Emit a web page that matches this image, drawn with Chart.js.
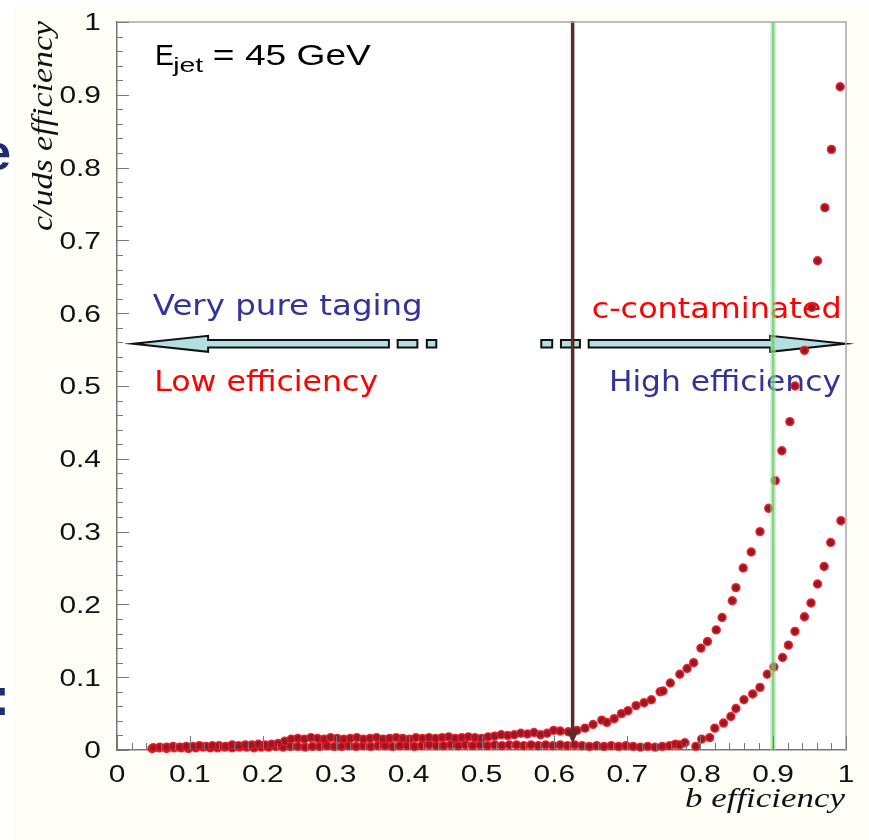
<!DOCTYPE html>
<html>
<head>
<meta charset="utf-8">
<title>c/uds efficiency vs b efficiency</title>
<script src="https://cdn.jsdelivr.net/npm/chart.js@4.4.1/dist/chart.umd.min.js"></script>
<style>
  body { margin: 0; background: #fff; }
  canvas { display: block; }
</style>
</head>
<body>
<canvas id="myChart" width="869" height="840"></canvas>
<script>
// eficiencia b / eficiencia c (curva superior)
const bEffC = [
  0.050, 0.059, 0.068, 0.077, 0.086, 0.095, 0.104, 0.113, 0.122, 0.131,
  0.140, 0.149, 0.158, 0.167, 0.176, 0.185, 0.194, 0.203, 0.212, 0.221,
  0.230, 0.239, 0.248, 0.257, 0.266, 0.275, 0.284, 0.293, 0.302, 0.311,
  0.320, 0.329, 0.338, 0.347, 0.356, 0.365, 0.374, 0.383, 0.392, 0.401,
  0.410, 0.419, 0.428, 0.437, 0.446, 0.455, 0.464, 0.473, 0.482, 0.491,
  0.500, 0.509, 0.518, 0.527, 0.536, 0.545, 0.554, 0.563, 0.572, 0.581,
  0.590, 0.599, 0.608, 0.619, 0.631, 0.642, 0.653, 0.665, 0.672, 0.682,
  0.692, 0.701, 0.712, 0.723, 0.733, 0.745, 0.749, 0.759, 0.772, 0.782,
  0.791, 0.801, 0.810, 0.822, 0.830, 0.844, 0.849, 0.859, 0.870, 0.882,
  0.894, 0.903, 0.912, 0.923, 0.930, 0.943, 0.953, 0.961, 0.971, 0.980,
  0.992
];
const cEff = [
  0.003, 0.004, 0.004, 0.005, 0.004, 0.005, 0.005, 0.006, 0.005, 0.006,
  0.006, 0.005, 0.007, 0.006, 0.007, 0.007, 0.008, 0.007, 0.008, 0.009,
  0.012, 0.015, 0.016, 0.015, 0.017, 0.016, 0.015, 0.017, 0.016, 0.015,
  0.016, 0.017, 0.015, 0.016, 0.017, 0.015, 0.016, 0.017, 0.016, 0.015,
  0.017, 0.016, 0.017, 0.016, 0.017, 0.018, 0.016, 0.017, 0.018, 0.017,
  0.016, 0.018, 0.019, 0.021, 0.020, 0.021, 0.023, 0.022, 0.024, 0.021,
  0.023, 0.027, 0.026, 0.025, 0.027, 0.030, 0.035, 0.041, 0.038, 0.043,
  0.050, 0.054, 0.061, 0.065, 0.069, 0.080, 0.081, 0.092, 0.104, 0.112,
  0.120, 0.140, 0.149, 0.165, 0.182, 0.205, 0.223, 0.250, 0.272, 0.300,
  0.332, 0.370, 0.411, 0.451, 0.500, 0.549, 0.608, 0.672, 0.745, 0.825,
  0.911
];

// eficiencia b / eficiencia uds (curva inferior)
const bEffUds = [
  0.048, 0.058, 0.068, 0.078, 0.088, 0.098, 0.108, 0.118, 0.128, 0.138,
  0.148, 0.158, 0.168, 0.178, 0.188, 0.198, 0.208, 0.218, 0.228, 0.238,
  0.248, 0.258, 0.268, 0.278, 0.288, 0.298, 0.308, 0.318, 0.328, 0.338,
  0.348, 0.358, 0.368, 0.378, 0.388, 0.398, 0.408, 0.418, 0.428, 0.438,
  0.448, 0.458, 0.468, 0.478, 0.488, 0.498, 0.508, 0.518, 0.528, 0.538,
  0.548, 0.558, 0.568, 0.578, 0.588, 0.598, 0.608, 0.618, 0.628, 0.638,
  0.648, 0.658, 0.668, 0.678, 0.688, 0.698, 0.708, 0.718, 0.728, 0.738,
  0.748, 0.758, 0.766, 0.772, 0.779, 0.794, 0.802, 0.813, 0.820, 0.832,
  0.842, 0.849, 0.860, 0.872, 0.882, 0.892, 0.901, 0.913, 0.921, 0.930,
  0.943, 0.952, 0.961, 0.970, 0.979, 0.993
];
const udsEff = [
  0.002, 0.003, 0.002, 0.003, 0.003, 0.002, 0.003, 0.004, 0.003, 0.003,
  0.004, 0.003, 0.004, 0.004, 0.003, 0.004, 0.004, 0.005, 0.004, 0.005,
  0.005, 0.004, 0.005, 0.005, 0.006, 0.005, 0.005, 0.006, 0.005, 0.006,
  0.005, 0.006, 0.006, 0.005, 0.006, 0.006, 0.005, 0.006, 0.007, 0.006,
  0.006, 0.007, 0.006, 0.007, 0.006, 0.007, 0.006, 0.007, 0.006, 0.007,
  0.007, 0.006, 0.007, 0.006, 0.007, 0.006, 0.007, 0.006, 0.007, 0.006,
  0.005, 0.006, 0.005, 0.006, 0.005, 0.006, 0.005, 0.004, 0.005, 0.004,
  0.005, 0.006, 0.008, 0.007, 0.010, 0.005, 0.015, 0.017, 0.030, 0.037,
  0.046, 0.057, 0.069, 0.077, 0.086, 0.104, 0.114, 0.127, 0.144, 0.163,
  0.183, 0.202, 0.228, 0.252, 0.285, 0.315
];

const xTickValues = [0, 0.1, 0.2, 0.3, 0.4, 0.5, 0.6, 0.7, 0.8, 0.9, 1];
const xTickLabels = ['0', '0.1', '0.2', '0.3', '0.4', '0.5', '0.6', '0.7', '0.8', '0.9', '1'];
const yTickValues = [0, 0.1, 0.2, 0.3, 0.4, 0.5, 0.6, 0.7, 0.8, 0.9, 1];
const yTickLabels = ['0', '0.1', '0.2', '0.3', '0.4', '0.5', '0.6', '0.7', '0.8', '0.9', '1'];

// cortes marcados con lineas verticales
const corteOperacion = 0.625;
const corteAlto = 0.9;

const AZUL = '#333399';
const ROJO = '#ff0000';
const SANS = '"Liberation Sans", Arial, sans-serif';
const VERDANA = '"DejaVu Sans", Verdana, sans-serif';
const SERIF = '"Liberation Serif", "Times New Roman", serif';

function texto(ctx, s, x, y, font, color, align, sx, angle) {
  ctx.save();
  ctx.translate(x, y);
  if (angle) ctx.rotate(angle);
  ctx.scale(sx, 1);
  ctx.font = font;
  ctx.fillStyle = color;
  ctx.textAlign = align;
  ctx.textBaseline = 'alphabetic';
  ctx.fillText(s, 0, 0);
  ctx.restore();
}

// igual que texto() pero estirado hasta un ancho dado
function textoAncho(ctx, s, x, y, font, color, align, ancho, angle) {
  ctx.save();
  ctx.font = font;
  const w = ctx.measureText(s).width;
  ctx.restore();
  texto(ctx, s, x, y, font, color, align, ancho / w, angle);
}

function caja(ctx, x0, x1, yc, h) {
  ctx.beginPath();
  ctx.rect(x0, yc - h, x1 - x0, 2 * h);
  ctx.fill();
  ctx.stroke();
}

function flecha(ctx, xPunta, xBase, xCola, yc) {
  ctx.beginPath();
  ctx.moveTo(xPunta, yc);
  ctx.lineTo(xBase, yc - 8);
  ctx.lineTo(xBase, yc - 3.8);
  ctx.lineTo(xCola, yc - 3.8);
  ctx.lineTo(xCola, yc + 3.8);
  ctx.lineTo(xBase, yc + 3.8);
  ctx.lineTo(xBase, yc + 8);
  ctx.closePath();
  ctx.fill();
  ctx.stroke();
}

const decoraciones = {
  id: 'decoraciones',
  beforeDraw(chart) {
    const ctx = chart.ctx;
    const a = chart.chartArea;
    ctx.save();
    ctx.fillStyle = '#ffffff';
    ctx.fillRect(0, 0, chart.width, chart.height);
    ctx.fillStyle = '#fefef6';
    ctx.fillRect(13, 6, chart.width - 13, chart.height - 6);
    ctx.fillStyle = '#ffffff';
    ctx.fillRect(a.left, a.top, a.right - a.left, a.bottom - a.top);
    // restos del texto de la diapositiva
    ctx.fillStyle = '#1f2d6e';
    ctx.font = 'bold 50px ' + SANS;
    ctx.textAlign = 'right';
    ctx.fillText('e', 11, 170);
    ctx.font = 'bold 54px ' + SANS;
    ctx.textAlign = 'left';
    ctx.fillText(':', -8, 715);
    ctx.restore();
  },
  beforeDatasetsDraw(chart) {
    const ctx = chart.ctx;
    const xs = chart.scales.x;
    const ys = chart.scales.y;
    const px = v => xs.getPixelForValue(v);
    const py = v => ys.getPixelForValue(v);

    // E_jet = 45 GeV
    textoAncho(ctx, 'E', px(0.052), py(0.941), '29px ' + SANS, '#000', 'left', 19);
    textoAncho(ctx, 'jet', px(0.077), py(0.9315), '20px ' + SANS, '#000', 'left', 30);
    textoAncho(ctx, '= 45 GeV', px(0.1315), py(0.941), '29px ' + SANS, '#000', 'left', 158);

    textoAncho(ctx, 'Very pure taging', px(0.049), py(0.5975), '29px ' + VERDANA, AZUL, 'left', 270);
    textoAncho(ctx, 'Low efficiency', px(0.051), py(0.4925), '29px ' + VERDANA, ROJO, 'left', 224);
    textoAncho(ctx, 'c-contaminated', px(0.994), py(0.594), '29px ' + VERDANA, ROJO, 'right', 250);
    textoAncho(ctx, 'High efficiency', px(0.993), py(0.4925), '29px ' + VERDANA, AZUL, 'right', 232);

    // flechas de pureza / eficiencia
    const yc = py(0.558);
    ctx.save();
    ctx.fillStyle = '#b3dfe0';
    ctx.strokeStyle = '#111';
    ctx.lineWidth = 2;
    ctx.lineJoin = 'miter';
    flecha(ctx, px(0.022), px(0.125), px(0.373), yc);
    caja(ctx, px(0.385), px(0.412), yc, 3.8);
    caja(ctx, px(0.425), px(0.438), yc, 3.8);
    flecha(ctx, px(0.999), px(0.896), px(0.647), yc);
    caja(ctx, px(0.609), px(0.635), yc, 3.8);
    caja(ctx, px(0.582), px(0.597), yc, 3.8);
    ctx.restore();
  },
  afterDatasetsDraw(chart) {
    const ctx = chart.ctx;
    const a = chart.chartArea;
    const xs = chart.scales.x;
    const ys = chart.scales.y;
    const px = v => xs.getPixelForValue(v);
    const py = v => ys.getPixelForValue(v);
    ctx.save();

    // linea verde en b eff = 0.9
    ctx.strokeStyle = 'rgba(170, 225, 170, 0.5)';
    ctx.lineWidth = 6;
    ctx.beginPath();
    ctx.moveTo(px(corteAlto), a.top);
    ctx.lineTo(px(corteAlto), a.bottom);
    ctx.stroke();
    ctx.strokeStyle = 'rgba(90, 195, 90, 0.65)';
    ctx.lineWidth = 2.5;
    ctx.stroke();

    // linea marron con punta de flecha
    const xb = px(corteOperacion);
    const yPunta = py(0.009);
    ctx.strokeStyle = '#5c2b2b';
    ctx.fillStyle = '#5c2b2b';
    ctx.lineWidth = 3.5;
    ctx.beginPath();
    ctx.moveTo(xb, a.top - 1);
    ctx.lineTo(xb, yPunta - 10);
    ctx.stroke();
    ctx.beginPath();
    ctx.moveTo(xb - 6, yPunta - 13);
    ctx.lineTo(xb + 6, yPunta - 13);
    ctx.lineTo(xb, yPunta);
    ctx.closePath();
    ctx.fill();

    // marco superior y derecho
    ctx.strokeStyle = '#a8a8a8';
    ctx.lineWidth = 1.5;
    ctx.beginPath();
    ctx.moveTo(a.left, a.top);
    ctx.lineTo(a.right, a.top);
    ctx.lineTo(a.right, a.bottom);
    ctx.stroke();

    // marcas de los ejes hacia dentro
    ctx.strokeStyle = '#777';
    ctx.lineWidth = 1;
    ctx.beginPath();
    for (let k = 0; k <= 50; k++) {
      const mayor = k % 5 === 0;
      const x = Math.round(px(k / 50)) + 0.5;
      ctx.moveTo(x, a.bottom);
      ctx.lineTo(x, a.bottom - (mayor ? 14 : 7));
      const y = Math.round(py(k / 50)) + 0.5;
      ctx.moveTo(a.left, y);
      ctx.lineTo(a.left + (mayor ? 12 : 6), y);
    }
    ctx.stroke();

    // etiquetas
    xTickValues.forEach((v, i) => {
      texto(ctx, xTickLabels[i], px(v), 782, '23px ' + SANS, '#111', 'center', 1.3);
    });
    yTickValues.forEach((v, i) => {
      texto(ctx, yTickLabels[i], 101, py(v) + 8.3, '23px ' + SANS, '#111', 'right', 1.3);
    });

    // titulos de los ejes
    textoAncho(ctx, 'b efficiency', a.right - 1, 807, 'italic 27px ' + SERIF, '#111', 'right', 160);
    textoAncho(ctx, 'c/uds efficiency', 52, a.top - 1, 'italic 29px ' + SERIF, '#111', 'right', 210, -Math.PI / 2);

    ctx.restore();
  }
};

const puntosC = bEffC.map((x, i) => ({ x: x, y: cEff[i] }));
const puntosUds = bEffUds.map((x, i) => ({ x: x, y: udsEff[i] }));

const estiloPunto = {
  pointRadius: 3.8,
  pointBackgroundColor: '#8e1a2a',
  pointBorderColor: 'rgba(232, 22, 30, 0.9)',
  pointBorderWidth: 1.8,
  showLine: false,
  clip: false
};

new Chart(document.getElementById('myChart'), {
  type: 'scatter',
  data: {
    datasets: [
      Object.assign({ label: 'c', data: puntosC }, estiloPunto),
      Object.assign({ label: 'uds', data: puntosUds }, estiloPunto)
    ]
  },
  options: {
    responsive: false,
    animation: false,
    devicePixelRatio: 1,
    layout: { padding: { top: 22, right: 23, left: 0, bottom: 0 } },
    plugins: {
      legend: { display: false },
      tooltip: { enabled: false }
    },
    scales: {
      x: {
        type: 'linear',
        min: 0,
        max: 1,
        ticks: { display: false },
        grid: { display: false },
        border: { color: '#777', width: 1.5 },
        afterFit: s => { s.height = 90; }
      },
      y: {
        type: 'linear',
        min: 0,
        max: 1,
        ticks: { display: false },
        grid: { display: false },
        border: { color: '#777', width: 1.5 },
        afterFit: s => { s.width = 117; }
      }
    }
  },
  plugins: [decoraciones]
});
</script>
</body>
</html>
